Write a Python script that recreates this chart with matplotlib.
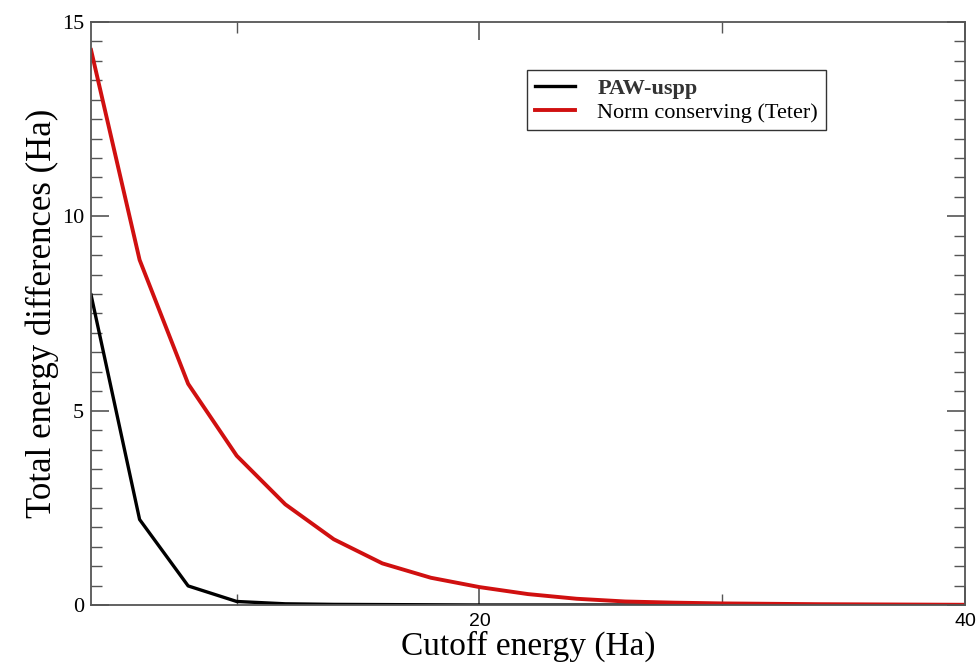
import matplotlib.pyplot as plt
from matplotlib.ticker import MultipleLocator

plt.rcParams['font.family'] = ['Liberation Serif', 'DejaVu Serif']

cutoff = [4, 6, 8, 10, 12, 14, 16, 18, 20, 22, 24, 26, 28, 30, 32, 34, 36, 38, 40]
paw = [7.98, 2.2, 0.49, 0.09, 0.03, 0.015, 0.01, 0.005, 0.0, 0.0,
       0.0, 0.0, 0.0, 0.0, 0.0, 0.0, 0.0, 0.0]
teter = [14.28, 8.88, 5.69, 3.84, 2.59, 1.69, 1.07, 0.70, 0.46, 0.28,
         0.16, 0.09, 0.06, 0.04, 0.03, 0.02, 0.015, 0.01, 0.005]

fig = plt.figure(figsize=(9.8, 6.69), dpi=100)
ax = fig.add_axes([0.0929, 0.0957, 0.8918, 0.8714])

ax.plot(cutoff[:len(paw)], paw, color='black', lw=2.4, label='PAW-uspp')
ax.plot(cutoff, teter, color='#d01010', lw=2.8, label='Norm conserving (Teter)')

ax.set_xlim(4, 40)
ax.set_ylim(0, 15)
ax.xaxis.set_major_locator(MultipleLocator(20))
ax.xaxis.set_minor_locator(MultipleLocator(10))
ax.yaxis.set_major_locator(MultipleLocator(5))
ax.yaxis.set_minor_locator(MultipleLocator(0.5))
ax.tick_params(which='both', direction='in', top=True, right=True,
               color='#555555')
ax.tick_params(which='major', length=13, width=1.2)
ax.tick_params(which='minor', length=8, width=1.0)
ax.tick_params(axis='y', labelsize=16, pad=5)
ax.tick_params(axis='x', labelsize=14, pad=6)
for lbl in ax.get_xticklabels():
    lbl.set_family(['Liberation Sans', 'DejaVu Sans'])
for s in ax.spines.values():
    s.set_color('#555555')
    s.set_linewidth(1.3)

ax.set_xlabel('Cutoff energy (Ha)', fontsize=24, labelpad=0)
ax.set_ylabel('Total energy differences (Ha)', fontsize=25, labelpad=2)

leg = ax.legend(loc='upper left', bbox_to_anchor=(0.499, 0.917), fontsize=16,
                frameon=True, fancybox=False, edgecolor='black',
                handlelength=1.8, borderpad=0.35, labelspacing=0.15,
                handletextpad=1.0, borderaxespad=0)
leg.get_frame().set_linewidth(1.0)
leg.get_texts()[0].set_fontweight('bold')
leg.get_texts()[0].set_color('#333333')

fig.savefig('out.png', dpi=100)
